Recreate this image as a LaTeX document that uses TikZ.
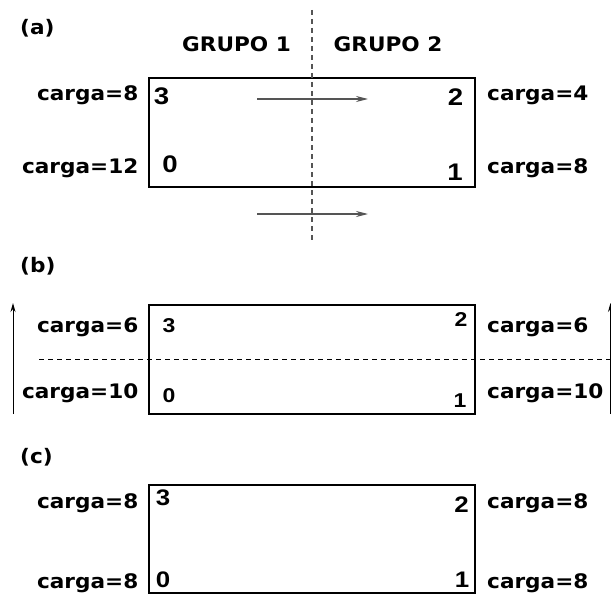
\documentclass[tikz,border=0pt]{standalone}
\usepackage{fontspec}
\setmainfont{DejaVu Sans}[FakeStretch=1.08]
\newfontfamily\digitos{Liberation Sans}[FakeStretch=1.15]
\usepackage{tikz}
\usetikzlibrary{arrows.meta}
\definecolor{gris}{HTML}{555555}

\begin{document}
\begin{tikzpicture}
[x=1pt,y=-1pt,
txt/.style={font=\bfseries\fontsize{20}{22}\selectfont, inner sep=0pt},
izq/.style={txt, anchor=base east},
der/.style={txt, anchor=base west},
nodo/.style={font=\digitos\bfseries\fontsize{#1}{#1}\selectfont, inner sep=0pt, anchor=base},
caja/.style={draw, line width=2pt, minimum width=326pt, minimum height=109pt, inner sep=0pt},
flecha/.style={draw=gris, line width=1.2pt, -{Stealth[length=12pt,width=6pt]}},
subir/.style={draw, line width=1pt, -{Stealth[length=9pt,width=5pt]}}]
\useasboundingbox (0,0) rectangle (611,594);

% (a) dos grupos
\node[der] (tagA) at (20,35) {(a)};
\node[txt, anchor=base] (g1) at (236.5,52) {GRUPO 1};
\node[txt, anchor=base] (g2) at (388,52) {GRUPO 2};
\node[caja] (cajaA) at (312,132.5) {};
\node[izq] (cA3) at (138.5,101) {carga=8};
\node[izq] (cA0) at (138.5,173) {carga=12};
\node[der] (cA2) at (487,100) {carga=4};
\node[der] (cA1) at (487,173) {carga=8};
\node[nodo=24] (nA3) at (161.5,105) {3};
\node[nodo=24] (nA0) at (170,172) {0};
\node[nodo=24] (nA2) at (455.5,106) {2};
\node[nodo=24] (nA1) at (455,180) {1};
\coordinate (corteS) at (312,10);
\coordinate (corteI) at (312,242);
\draw[gris, line width=1.3pt, dash pattern=on 5pt off 4pt] (corteS) -- (corteI);
\coordinate (p0) at (257,99);
\coordinate (p1) at (368,99);
\coordinate (q0) at (257,214);
\coordinate (q1) at (368,214);
\draw[flecha] (p0) -- (p1);
\draw[flecha] (q0) -- (q1);

% (b)
\node[der] (tagB) at (20,272) {(b)};
\node[caja] (cajaB) at (311.75,359.5) {};
\node[izq] (cB3) at (138.5,332) {carga=6};
\node[izq] (cB0) at (138.5,398) {carga=10};
\node[der] (cB2) at (487,332) {carga=6};
\node[der] (cB1) at (487,398) {carga=10};
\node[nodo=20] (nB3) at (169,332) {3};
\node[nodo=20] (nB0) at (169,402) {0};
\node[nodo=20] (nB2) at (461,326) {2};
\node[nodo=20] (nB1) at (460,407) {1};
\coordinate (mI) at (39,359);
\coordinate (mD) at (611,359);
\draw[line width=1pt, dash pattern=on 5pt off 4pt] (mI) -- (mD);
\coordinate (uI0) at (13,414);
\coordinate (uI1) at (13,303);
\coordinate (uD0) at (610.5,414);
\coordinate (uD1) at (610.5,303);
\draw[subir] (uI0) -- (uI1);
\draw[subir] (uD0) -- (uD1);

% (c)
\node[der] (tagC) at (20,463) {(c)};
\node[caja, minimum height=108pt] (cajaC) at (311.75,539) {};
\node[izq] (cC3) at (138.5,508) {carga=8};
\node[izq] (cC0) at (138.5,588) {carga=8};
\node[der] (cC2) at (487,508) {carga=8};
\node[der] (cC1) at (487,588) {carga=8};
\node[nodo=22.5] (nC3) at (163,505) {3};
\node[nodo=22.5] (nC0) at (163,587) {0};
\node[nodo=22.5] (nC2) at (461.5,512) {2};
\node[nodo=22.5] (nC1) at (462,587) {1};
\end{tikzpicture}
\end{document}
